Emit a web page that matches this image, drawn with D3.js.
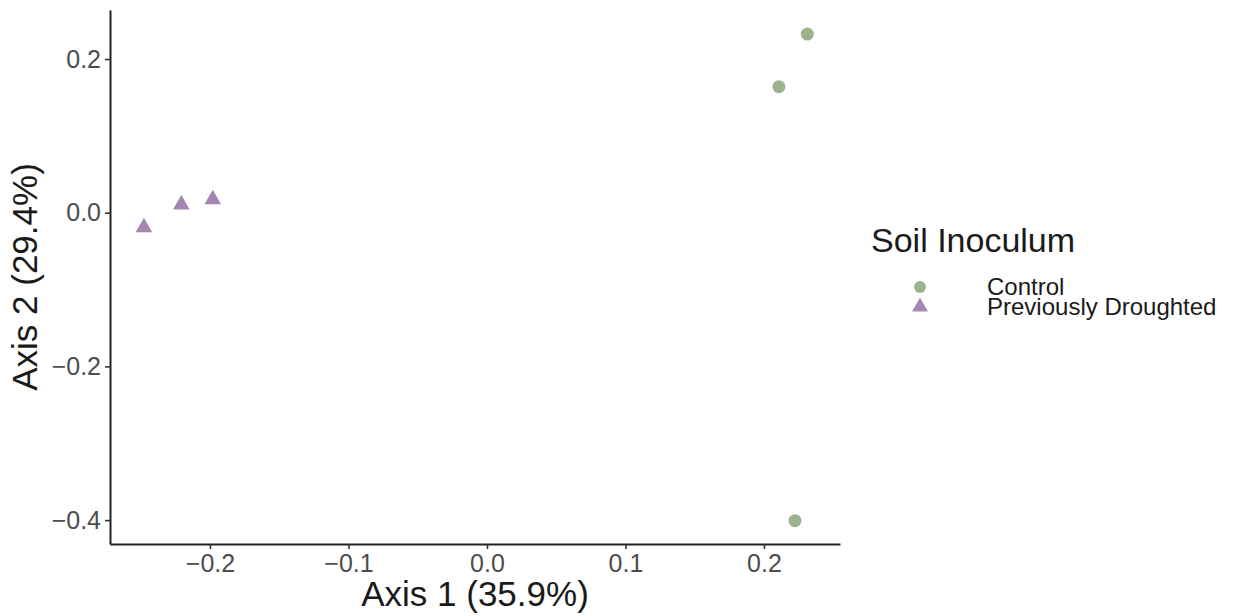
<!DOCTYPE html>
<html>
<head>
<meta charset="utf-8">
<script src="https://cdn.jsdelivr.net/npm/d3@7"></script>
<style>
  html, body { margin: 0; padding: 0; background: #fff; }
  svg { display: block; font-family: "Liberation Sans", Arial, sans-serif; }
</style>
</head>
<body>
<svg id="chart" width="1244" height="616"></svg>
<script>
// ---- data ----
const groups = ["Control", "Previously Droughted"];
const controlX = [0.2313, 0.2108, 0.2224];
const controlY = [0.2325, 0.1640, -0.4008];
const droughtX = [-0.2477, -0.2207, -0.1980];
const droughtY = [-0.0190, 0.0104, 0.0174];
const xTicks = [-0.2, -0.1, 0.0, 0.1, 0.2];
const yTicks = [-0.4, -0.2, 0.0, 0.2];
const xTitle = "Axis 1 (35.9%)";
const yTitle = "Axis 2 (29.4%)";
const legendTitle = "Soil Inoculum";
const colors = ["#9bb48e", "#a386b1"];

(function () {
// ---- layout ----
const svg = d3.select("#chart");
const pLeft = 110, pRight = 840, pTop = 10, pBottom = 544;

const x = d3.scaleLinear().domain([-0.2722, 0.2549]).range([pLeft, pRight]);
const y = d3.scaleLinear().domain([-0.4311, 0.2638]).range([pBottom, pTop]);

const fmt = d => (d < 0 ? "\u2212" : "") + Math.abs(d).toFixed(1);

// x axis
const gx = svg.append("g").attr("transform", `translate(0,${pBottom})`)
  .call(d3.axisBottom(x).tickValues(xTicks).tickFormat(fmt).tickSize(5).tickPadding(5).tickSizeOuter(0));
// y axis
const gy = svg.append("g").attr("transform", `translate(${pLeft},0)`)
  .call(d3.axisLeft(y).tickValues(yTicks).tickFormat(fmt).tickSize(5).tickPadding(4).tickSizeOuter(0));

[gx, gy].forEach(g => {
  g.select(".domain").attr("stroke", "#222").attr("stroke-width", 2);
  g.selectAll(".tick line").attr("stroke", "#333").attr("stroke-width", 1.6);
  g.selectAll(".tick text").attr("fill", "#4d4d4d").style("font-size", "25px")
    .style("font-family", "'Liberation Sans', Arial, sans-serif");
});

// axis titles
svg.append("text").attr("x", (pLeft + pRight) / 2).attr("y", 606)
  .attr("text-anchor", "middle").style("font-size", "35px").attr("fill", "#1a1a1a").text(xTitle);
svg.append("text").attr("transform", `translate(37,${(pTop + pBottom) / 2}) rotate(-90)`)
  .attr("text-anchor", "middle").style("font-size", "35px").attr("fill", "#1a1a1a").text(yTitle);

// points
const circ = controlX.map((d, i) => ({ x: d, y: controlY[i] }));
const tri = droughtX.map((d, i) => ({ x: d, y: droughtY[i] }));

svg.append("g").selectAll("circle").data(circ).join("circle")
  .attr("cx", d => x(d.x)).attr("cy", d => y(d.y)).attr("r", 6.5).attr("fill", colors[0]);

svg.append("g").selectAll("path").data(tri).join("path")
  .attr("transform", d => `translate(${x(d.x)},${y(d.y)})`)
  .attr("d", d3.symbol().type(d3.symbolTriangle).size(120)()).attr("fill", colors[1]);

// legend
const lg = svg.append("g");
lg.append("text").attr("x", 871).attr("y", 252).style("font-size", "34px").attr("fill", "#1a1a1a").text(legendTitle);
const items = lg.selectAll("g.item").data(groups).join("g").attr("class", "item")
  .attr("transform", (d, i) => `translate(920,${287 + i * 20})`);
items.each(function (d, i) {
  const g = d3.select(this);
  if (i === 0) g.append("circle").attr("r", 6).attr("fill", colors[0]);
  else g.append("path").attr("d", d3.symbol().type(d3.symbolTriangle).size(110)()).attr("fill", colors[1]);
  g.append("text").attr("x", 67).attr("y", 8).style("font-size", "24px").attr("fill", "#1a1a1a").text(d);
});
})();
</script>
</body>
</html>
